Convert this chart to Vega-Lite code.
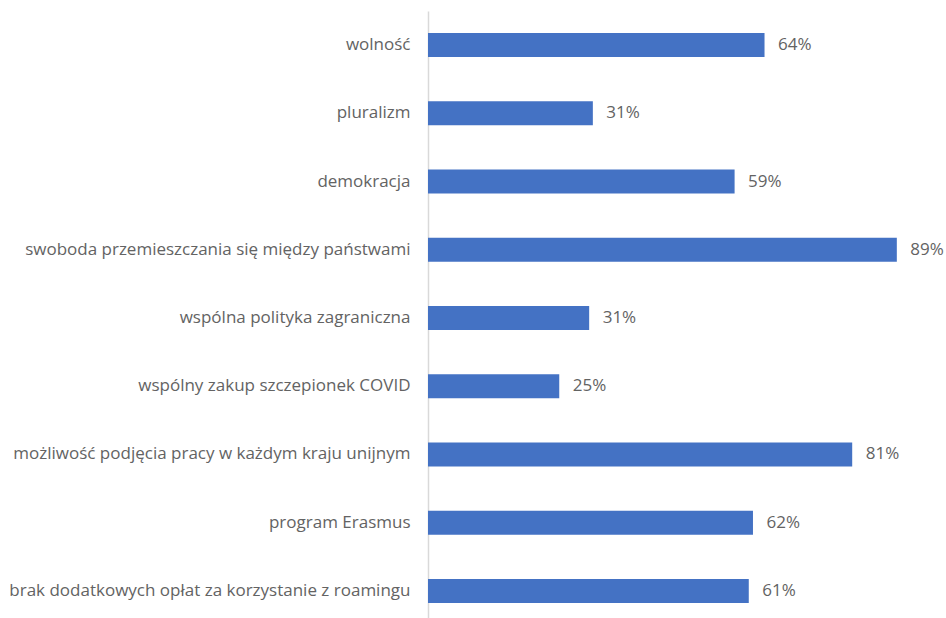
{
  "$schema": "https://vega.github.io/schema/vega-lite/v6.json",
  "width": 525,
  "height": 614,
  "autosize": {"type": "none"},
  "padding": {"left": 428, "top": 11, "right": 0, "bottom": 0},
  "background": "white",
  "config": {"view": {"stroke": null}, "font": "Open Sans"},
  "data": {
    "values": [
      {"cat": "wolność", "v": 64.1, "lbl": "64%"},
      {"cat": "pluralizm", "v": 31.4, "lbl": "31%"},
      {"cat": "demokracja", "v": 58.4, "lbl": "59%"},
      {"cat": "swoboda przemieszczania się między państwami", "v": 89.3, "lbl": "89%"},
      {"cat": "wspólna polityka zagraniczna", "v": 30.7, "lbl": "31%"},
      {"cat": "wspólny zakup szczepionek COVID", "v": 25.0, "lbl": "25%"},
      {"cat": "możliwość podjęcia pracy w każdym kraju unijnym", "v": 80.8, "lbl": "81%"},
      {"cat": "program Erasmus", "v": 61.9, "lbl": "62%"},
      {"cat": "brak dodatkowych opłat za korzystanie z roamingu", "v": 61.1, "lbl": "61%"}
    ]
  },
  "encoding": {
    "y": {
      "field": "cat", "type": "nominal", "sort": null,
      "scale": {"paddingInner": 0.648, "paddingOuter": 0.324},
      "axis": {"title": null, "ticks": false, "grid": false, "domainColor": "#d9d9d9", "domainWidth": 1.5, "labelPadding": 18, "labelFontSize": 17, "labelColor": "#636363", "labelFont": "Open Sans", "labelLimit": 500}
    },
    "x": {
      "field": "v", "type": "quantitative",
      "scale": {"domain": [0, 100], "nice": false},
      "axis": null
    }
  },
  "layer": [
    {"mark": {"type": "bar", "color": "#4472C4"}},
    {"mark": {"type": "text", "align": "left", "baseline": "middle", "dx": 13.5, "fontSize": 17, "color": "#636363", "font": "Open Sans"},
     "encoding": {"text": {"field": "lbl", "type": "nominal"}}}
  ]
}
